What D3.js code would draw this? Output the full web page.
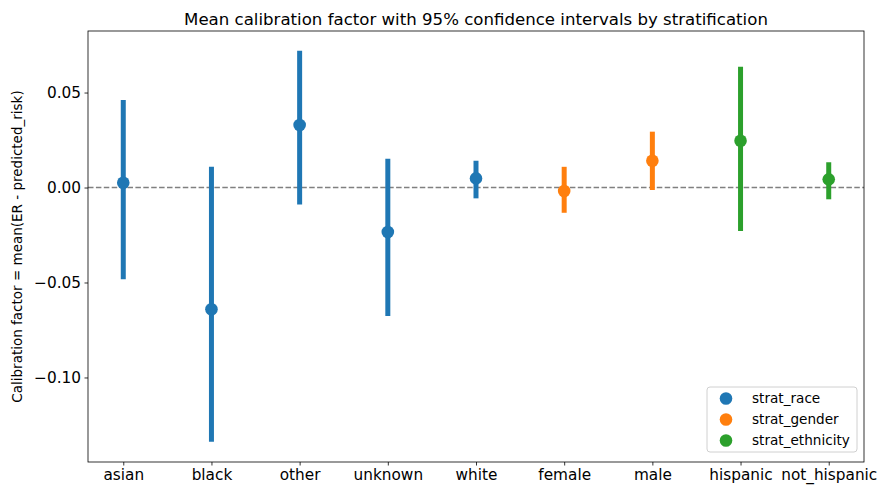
<!DOCTYPE html>
<html>
<head>
<meta charset="utf-8">
<script src="https://cdn.jsdelivr.net/npm/d3@7"></script>
<style>
  body { margin: 0; background: #fff; }
  text { font-family: "DejaVu Sans", sans-serif; fill: #000; }
</style>
</head>
<body>
<div id="chart"></div>
<script>
/* Categories and their stratification group */
var categories = ["asian", "black", "other", "unknown", "white", "female", "male", "hispanic", "not_hispanic"];
var groups = ["strat_race", "strat_race", "strat_race", "strat_race", "strat_race",
              "strat_gender", "strat_gender", "strat_ethnicity", "strat_ethnicity"];

/* Mean calibration factor and 95% CI bounds */
var means = [0.0025, -0.0641, 0.0329, -0.0234, 0.0048, -0.0018, 0.0141, 0.0246, 0.0043];
var lower = [-0.0483, -0.1338, -0.0089, -0.0676, -0.0057, -0.0133, -0.0013, -0.0229, -0.0062];
var upper = [0.0461, 0.0109, 0.0720, 0.0152, 0.0141, 0.0109, 0.0294, 0.0636, 0.0133];

var legendNames = ["strat_race", "strat_gender", "strat_ethnicity"];
var yTicks = [-0.10, -0.05, 0.00, 0.05];

var width = 878,
    height = 486;
var margin = { top: 31, right: 14, bottom: 24, left: 88 };

var svg = d3.select("#chart")
    .append("svg")
    .attr("width", width)
    .attr("height", height);

/* x is categorical with a little padding on both ends */
var x = d3.scaleLinear()
    .domain([-0.4, categories.length - 1 + 0.4])
    .range([margin.left, width - margin.right]);

var y = d3.scaleLinear()
    .domain([-0.1445, 0.0824])
    .range([height - margin.bottom, margin.top]);

var color = d3.scaleOrdinal()
    .domain(legendNames)
    .range(["#1f77b4", "#ff7f0e", "#2ca02c"]);

/* zero reference line */
svg.append("line")
    .attr("x1", x.range()[0])
    .attr("x2", x.range()[1])
    .attr("y1", y(0))
    .attr("y2", y(0))
    .attr("stroke", "#808080")
    .attr("stroke-width", 1.5)
    .attr("stroke-dasharray", "5.5,2.4");

var data = categories.map(function (c, i) {
    return { cat: c, i: i, group: groups[i], mean: means[i], lo: lower[i], hi: upper[i] };
});

/* confidence interval bars */
svg.selectAll(".ci")
    .data(data)
    .enter().append("line")
    .attr("class", "ci")
    .attr("x1", function (d) { return x(d.i); })
    .attr("x2", function (d) { return x(d.i); })
    .attr("y1", function (d) { return y(d.lo); })
    .attr("y2", function (d) { return y(d.hi); })
    .attr("stroke", function (d) { return color(d.group); })
    .attr("stroke-width", 5);

/* mean points */
svg.selectAll(".pt")
    .data(data)
    .enter().append("circle")
    .attr("class", "pt")
    .attr("cx", function (d) { return x(d.i); })
    .attr("cy", function (d) { return y(d.mean); })
    .attr("r", 6.3)
    .attr("fill", function (d) { return color(d.group); });

/* axes */
var xAxis = d3.axisBottom(x)
    .tickValues(d3.range(categories.length))
    .tickFormat(function (d) { return categories[d]; })
    .tickSizeInner(3.5)
    .tickSizeOuter(0)
    .tickPadding(3.5);

var yAxis = d3.axisLeft(y)
    .tickValues(yTicks)
    .tickFormat(function (d) { return d3.format(".2f")(d).replace("-", "\u2212"); })
    .tickSizeInner(3.5)
    .tickSizeOuter(0)
    .tickPadding(3.5);

var gx = svg.append("g")
    .attr("transform", "translate(0," + (height - margin.bottom) + ")")
    .call(xAxis);

var gy = svg.append("g")
    .attr("transform", "translate(" + margin.left + ",0)")
    .call(yAxis);

[gx, gy].forEach(function (g) {
    g.select(".domain").remove();
    g.selectAll(".tick line").attr("stroke", "#000").attr("stroke-width", 0.8);
    g.selectAll(".tick text").style("font-size", "15.3px");
});

/* frame around the plot */
svg.append("rect")
    .attr("x", x.range()[0])
    .attr("y", y.range()[1])
    .attr("width", x.range()[1] - x.range()[0])
    .attr("height", y.range()[0] - y.range()[1])
    .attr("fill", "none")
    .attr("stroke", "#000")
    .attr("stroke-width", 0.8);

/* title and y label */
svg.append("text")
    .attr("x", (x.range()[0] + x.range()[1]) / 2)
    .attr("y", 25)
    .attr("text-anchor", "middle")
    .style("font-size", "16.6px")
    .text("Mean calibration factor with 95% confidence intervals by stratification");

svg.append("text")
    .attr("transform", "translate(22," + ((y.range()[0] + y.range()[1]) / 2) + ") rotate(-90)")
    .attr("text-anchor", "middle")
    .style("font-size", "13.5px")
    .text("Calibration factor = mean(ER - predicted_risk)");

/* legend */
var legend = svg.append("g")
    .attr("transform", "translate(707,387)");

legend.append("rect")
    .attr("width", 150)
    .attr("height", 65)
    .attr("rx", 3)
    .attr("fill", "#fff")
    .attr("fill-opacity", 0.8)
    .attr("stroke", "#d0d0d0")
    .attr("stroke-width", 1);

legendNames.forEach(function (name, i) {
    legend.append("circle")
        .attr("cx", 19)
        .attr("cy", 11.5 + i * 21)
        .attr("r", 6.3)
        .attr("fill", color(name));
    legend.append("text")
        .attr("x", 45)
        .attr("y", 11.5 + i * 21)
        .attr("dy", "0.35em")
        .style("font-size", "13.6px")
        .text(name);
});
</script>
</body>
</html>
